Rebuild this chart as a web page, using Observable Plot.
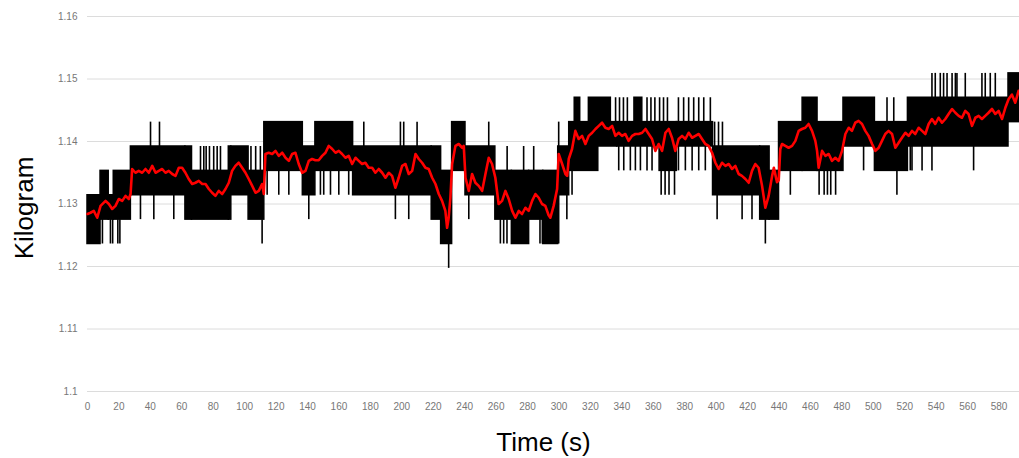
<!DOCTYPE html>
<html><head><meta charset="utf-8">
<script src="https://cdn.jsdelivr.net/npm/d3@7"></script>
<script src="https://cdn.jsdelivr.net/npm/@observablehq/plot@0.6"></script>
<style>body{margin:0;background:#fff} #chart svg{display:block}</style>
</head><body><div id="chart"></div>
<script>
// Quantised weight levels of the raw (black) signal
const L0 = 1.1197, L1 = 1.1236, L2 = 1.1275, L3 = 1.1314, L4 = 1.1353, L5 = 1.1392, L6 = 1.1431, L7 = 1.1470, L8 = 1.1509;

// Raw signal envelope: [tStart, tEnd, lowLevel, highLevel]
const rawBands = [
  [0, 8.3, L1, L3], [8.3, 13.5, L2, L4], [13.5, 16.7, L2, L3], [16.7, 27.6, L2, L4],
  [27.6, 62.3, L3, L5], [62.3, 66.5, L2, L5], [66.5, 89.9, L2, L4], [89.9, 91.5, L2, L5],
  [91.5, 102.5, L3, L5], [102.5, 112.5, L2, L4], [112.5, 137, L4, L6], [137, 145, L3, L5],
  [145, 169, L4, L6], [169, 219, L3, L5], [219, 225, L2, L5], [225, 232, L1, L4],
  [232, 240.5, L4, L6], [240.5, 259.5, L3, L5], [259.5, 270, L2, L4], [270, 281, L1, L4],
  [281, 290, L2, L4], [290, 299.5, L1, L4], [299.5, 306.5, L3, L5], [306.5, 325, L4, L6],
  [325, 337, L5, L6], [337, 364, L5, L6], [364, 375, L4, L6], [375, 398, L5, L6],
  [310, 313.5, L6, L7], [319, 333, L6, L7], [348, 353, L6, L7],
  [398, 428, L3, L5], [428, 434, L2, L5], [434, 440, L2, L4], [440, 455, L4, L6],
  [455, 464.5, L4, L7], [464.5, 481, L4, L6], [481, 501, L5, L7], [501, 522, L4, L6],
  [522, 586, L5, L7], [586, 593, L6, L8]
];

// Single excursions of the raw signal: [t, fromLevel, toLevel]
const rawSpikes = [
  [9.5, L2, L1], [14.6, L2, L1], [16.0, L2, L1], [19.3, L2, L1], [20.6, L2, L1],
  [40.1, L5, L6], [45.8, L5, L6], [33.7, L3, L2], [42.2, L3, L2], [54.9, L3, L2],
  [71.9, L4, L5], [74.0, L4, L5], [75.5, L4, L5], [77.6, L4, L5], [80.3, L4, L5], [82.5, L4, L5], [84.6, L4, L5],
  [104, L4, L5], [107, L4, L5], [110, L4, L5], [111.1, L2, L1],
  [114.3, L4, L3], [121.7, L4, L3], [128.1, L4, L3], [140.8, L3, L2],
  [148.2, L4, L3], [150.3, L4, L3], [154.6, L4, L3], [159.9, L4, L3], [166.2, L4, L3],
  [175.8, L5, L6], [199.1, L5, L6], [201.2, L5, L6], [209.7, L5, L6], [195.9, L3, L2], [204.4, L3, L2],
  [229.8, L1, L0], [242.6, L3, L2], [255.3, L5, L6],
  [262.7, L2, L1], [264.8, L2, L1], [266.9, L2, L1], [267, L4, L5], [277.5, L4, L5], [283.9, L4, L5],
  [287.9, L2, L1], [289.4, L2, L1], [299.8, L1, L6], [305, L3, L2], [308.3, L4, L3],
  [336, L6, L7], [338.5, L6, L7], [341, L6, L7], [343.5, L6, L7], [356, L6, L7], [358.5, L6, L7],
  [361, L6, L7], [364, L6, L7], [366.5, L6, L7], [369, L6, L7], [376, L6, L7], [379.3, L6, L7],
  [382.5, L6, L7], [385.7, L6, L7], [388.9, L6, L7], [392.1, L6, L7], [396.3, L6, L7],
  [338, L5, L4], [341.2, L5, L4], [345.4, L5, L4], [348.6, L5, L4], [351.8, L5, L4], [356, L5, L4], [359.2, L5, L4],
  [365, L4, L3], [367.5, L4, L3], [370, L4, L3], [373.5, L4, L3],
  [376, L5, L4], [380.4, L5, L4], [384.7, L5, L4], [388.9, L5, L4], [393.1, L5, L4],
  [399, L5, L6], [401.5, L5, L6], [404, L5, L6], [400.6, L3, L2], [416.5, L3, L2], [422.8, L3, L2],
  [431.3, L2, L1], [447.2, L4, L3],
  [465.5, L4, L3], [468.7, L4, L3], [470.8, L4, L3], [472.9, L4, L3], [476, L4, L3],
  [493.8, L5, L4], [508.7, L6, L7], [513, L6, L7], [515, L4, L3],
  [523.5, L5, L4], [524.6, L5, L4], [531, L5, L4], [537.3, L5, L4], [563.8, L5, L4],
  [537.3, L7, L8], [539.4, L7, L8], [542.6, L7, L8], [544.7, L7, L8], [546.9, L7, L8], [550.1, L7, L8],
  [552.2, L7, L8], [553.2, L7, L8], [558.5, L7, L8], [569.1, L7, L8], [571.2, L7, L8], [574.4, L7, L8], [577.6, L7, L8]
];

// Smoothed (red) series
const smoothTime = [0,1.9,4.0,6.2,8.3,11.5,13.6,15.7,17.8,19.9,22.1,24.2,26.3,27.4,28.4,30.5,32.6,34.8,36.9,39.0,41.2,43.3,45.4,47.5,49.6,51.7,53.9,56.0,58.1,60.2,62.3,64.4,66.6,68.7,70.8,73.0,75.1,77.2,79.3,81.4,83.5,85.7,87.8,89.9,92.0,94.1,96.2,98.4,100.5,102.6,104.8,106.9,109.0,111.1,112.2,113.2,115.3,117.5,119.6,121.7,123.9,126.0,128.1,130.2,132.3,134.4,136.6,138.7,140.8,142.9,145.0,147.1,149.3,151.4,153.5,155.7,157.8,159.9,162.0,164.1,166.2,168.4,170.5,172.6,174.7,176.8,178.9,181.1,183.2,185.3,187.5,189.6,191.7,193.8,195.9,198.0,200.2,202.3,204.4,206.6,208.7,210.8,212.9,215.0,217.1,219.3,221.4,223.5,225.6,227.7,228.8,229.8,230.9,232.0,234.1,236.2,238.4,239.4,240.5,242.6,244.7,246.8,248.9,251.1,253.2,255.3,257.4,259.5,261.6,263.8,265.9,268.0,270.2,272.3,274.4,276.5,278.6,280.7,282.9,285.0,287.1,289.2,291.3,293.4,294.5,296.6,298.8,299.8,302.0,304.1,305.2,306.2,308.3,310.4,312.5,314.7,316.8,318.9,321.1,323.2,325.3,327.4,329.5,331.6,333.8,335.9,338.0,340.1,342.2,344.3,346.5,348.6,350.7,352.9,355.0,357.1,359.2,361.3,363.4,365.6,367.7,369.8,371.9,374.0,376.1,378.3,380.4,382.5,384.7,386.8,388.9,391.0,393.1,395.2,397.4,399.5,401.6,403.7,405.9,408.0,410.1,412.2,414.3,416.4,418.6,420.7,422.8,424.9,427.0,429.2,431.3,433.4,435.6,436.7,438.7,439.8,440.8,441.9,444.0,446.1,448.3,450.4,452.5,454.6,456.7,458.8,461.0,463.1,464.2,465.2,467.4,469.5,471.6,473.7,475.8,477.9,480.1,482.2,484.3,486.4,488.5,490.6,492.8,494.9,497.0,499.2,501.3,503.4,505.5,507.6,509.7,511.9,514.0,516.1,518.2,520.4,522.5,524.6,526.7,528.8,531.0,533.1,535.2,537.3,539.4,541.5,543.7,545.8,547.9,550.1,552.2,554.3,556.4,558.5,560.6,562.8,564.9,567.0,569.1,571.2,573.3,575.5,577.6,579.7,581.9,584.0,586.1,588.2,590.3,592.4];
const smoothKg = [1.1284,1.1286,1.1289,1.1278,1.1297,1.1305,1.1300,1.1292,1.1297,1.1308,1.1305,1.1313,1.1308,1.1316,1.1356,1.1350,1.1353,1.1350,1.1356,1.1350,1.1361,1.1350,1.1353,1.1356,1.1350,1.1353,1.1348,1.1345,1.1358,1.1358,1.1350,1.1340,1.1332,1.1334,1.1337,1.1332,1.1332,1.1324,1.1318,1.1313,1.1321,1.1316,1.1324,1.1334,1.1353,1.1361,1.1366,1.1358,1.1350,1.1340,1.1329,1.1318,1.1321,1.1332,1.1316,1.1380,1.1382,1.1380,1.1385,1.1377,1.1382,1.1374,1.1369,1.1380,1.1382,1.1364,1.1350,1.1353,1.1369,1.1372,1.1370,1.1370,1.1377,1.1382,1.1393,1.1388,1.1382,1.1385,1.1380,1.1374,1.1377,1.1364,1.1374,1.1369,1.1364,1.1366,1.1358,1.1358,1.1350,1.1356,1.1350,1.1342,1.1350,1.1345,1.1326,1.1342,1.1361,1.1364,1.1348,1.1353,1.1380,1.1372,1.1366,1.1358,1.1356,1.1342,1.1332,1.1316,1.1305,1.1289,1.1262,1.1278,1.1310,1.1364,1.1393,1.1396,1.1390,1.1393,1.1342,1.1321,1.1348,1.1334,1.1329,1.1321,1.1348,1.1374,1.1364,1.1342,1.1300,1.1305,1.1321,1.1308,1.1289,1.1278,1.1289,1.1284,1.1294,1.1289,1.1305,1.1316,1.1310,1.1300,1.1297,1.1282,1.1278,1.1297,1.1324,1.1380,1.1364,1.1348,1.1345,1.1372,1.1388,1.1417,1.1404,1.1409,1.1396,1.1409,1.1414,1.1420,1.1425,1.1430,1.1422,1.1420,1.1425,1.1409,1.1414,1.1409,1.1412,1.1401,1.1409,1.1412,1.1412,1.1414,1.1420,1.1412,1.1404,1.1385,1.1396,1.1385,1.1414,1.1420,1.1406,1.1385,1.1404,1.1409,1.1404,1.1414,1.1406,1.1409,1.1412,1.1404,1.1396,1.1393,1.1382,1.1366,1.1356,1.1366,1.1361,1.1364,1.1356,1.1361,1.1348,1.1345,1.1340,1.1334,1.1353,1.1364,1.1358,1.1329,1.1294,1.1313,1.1345,1.1358,1.1335,1.1338,1.1388,1.1396,1.1393,1.1390,1.1393,1.1401,1.1417,1.1420,1.1422,1.1428,1.1417,1.1401,1.1385,1.1358,1.1385,1.1377,1.1380,1.1369,1.1374,1.1369,1.1385,1.1412,1.1422,1.1417,1.1430,1.1433,1.1428,1.1417,1.1409,1.1396,1.1385,1.1390,1.1401,1.1412,1.1417,1.1412,1.1390,1.1398,1.1406,1.1414,1.1409,1.1417,1.1412,1.1422,1.1417,1.1412,1.1428,1.1436,1.1428,1.1438,1.1430,1.1436,1.1444,1.1452,1.1446,1.1441,1.1438,1.1449,1.1444,1.1425,1.1438,1.1441,1.1436,1.1441,1.1446,1.1452,1.1444,1.1449,1.1436,1.1454,1.1468,1.1475,1.1462,1.1481];

// Axes
const xTicks = [0,20,40,60,80,100,120,140,160,180,200,220,240,260,280,300,320,340,360,380,400,420,440,460,480,500,520,540,560,580];
const yTicks = [1.1, 1.11, 1.12, 1.13, 1.14, 1.15, 1.16];
const yTickLabels = ["1.1", "1.11", "1.12", "1.13", "1.14", "1.15", "1.16"];
const xTitle = "Time (s)";
const yTitle = "Kilogram";

const chart = Plot.plot({
  width: 1019, height: 458,
  marginLeft: 87, marginRight: 0, marginTop: 16, marginBottom: 67,
  style: {fontFamily: "'Liberation Sans', Arial, sans-serif", background: "#fff"},
  x: {domain: [0, 593]},
  y: {domain: [1.1, 1.16]},
  marks: [
    Plot.gridY(yTicks, {stroke: "#dcdcdc", strokeOpacity: 1, strokeWidth: 1}),
    Plot.axisY(yTicks, {tickSize: 0, tickPadding: 10, fontSize: 10, color: "#777", label: null,
      tickFormat: d => yTickLabels[yTicks.indexOf(d)]}),
    Plot.axisX(xTicks, {tickSize: 0, tickPadding: 11, fontSize: 10, color: "#777", label: null}),
    Plot.rect(rawBands, {x1: d => d[0], x2: d => d[1], y1: d => d[2], y2: d => d[3], fill: "black", stroke: "black", strokeWidth: 1.5}),
    Plot.ruleX(rawSpikes, {x: d => d[0], y1: d => d[1], y2: d => d[2], stroke: "black", strokeWidth: 1.6}),
    Plot.line(smoothTime, {x: smoothTime, y: smoothKg, stroke: "#ff0000", strokeWidth: 2.6}),
    Plot.text([xTitle], {text: d => d, frameAnchor: "bottom", dy: 59, dx: -10, fontSize: 26, fill: "black"}),
    Plot.text([yTitle], {text: d => d, frameAnchor: "left", textAnchor: "middle", dx: -63, dy: 4, rotate: -90, fontSize: 26, fill: "black"})
  ]
});
document.getElementById("chart").appendChild(chart);
</script>
</body></html>
